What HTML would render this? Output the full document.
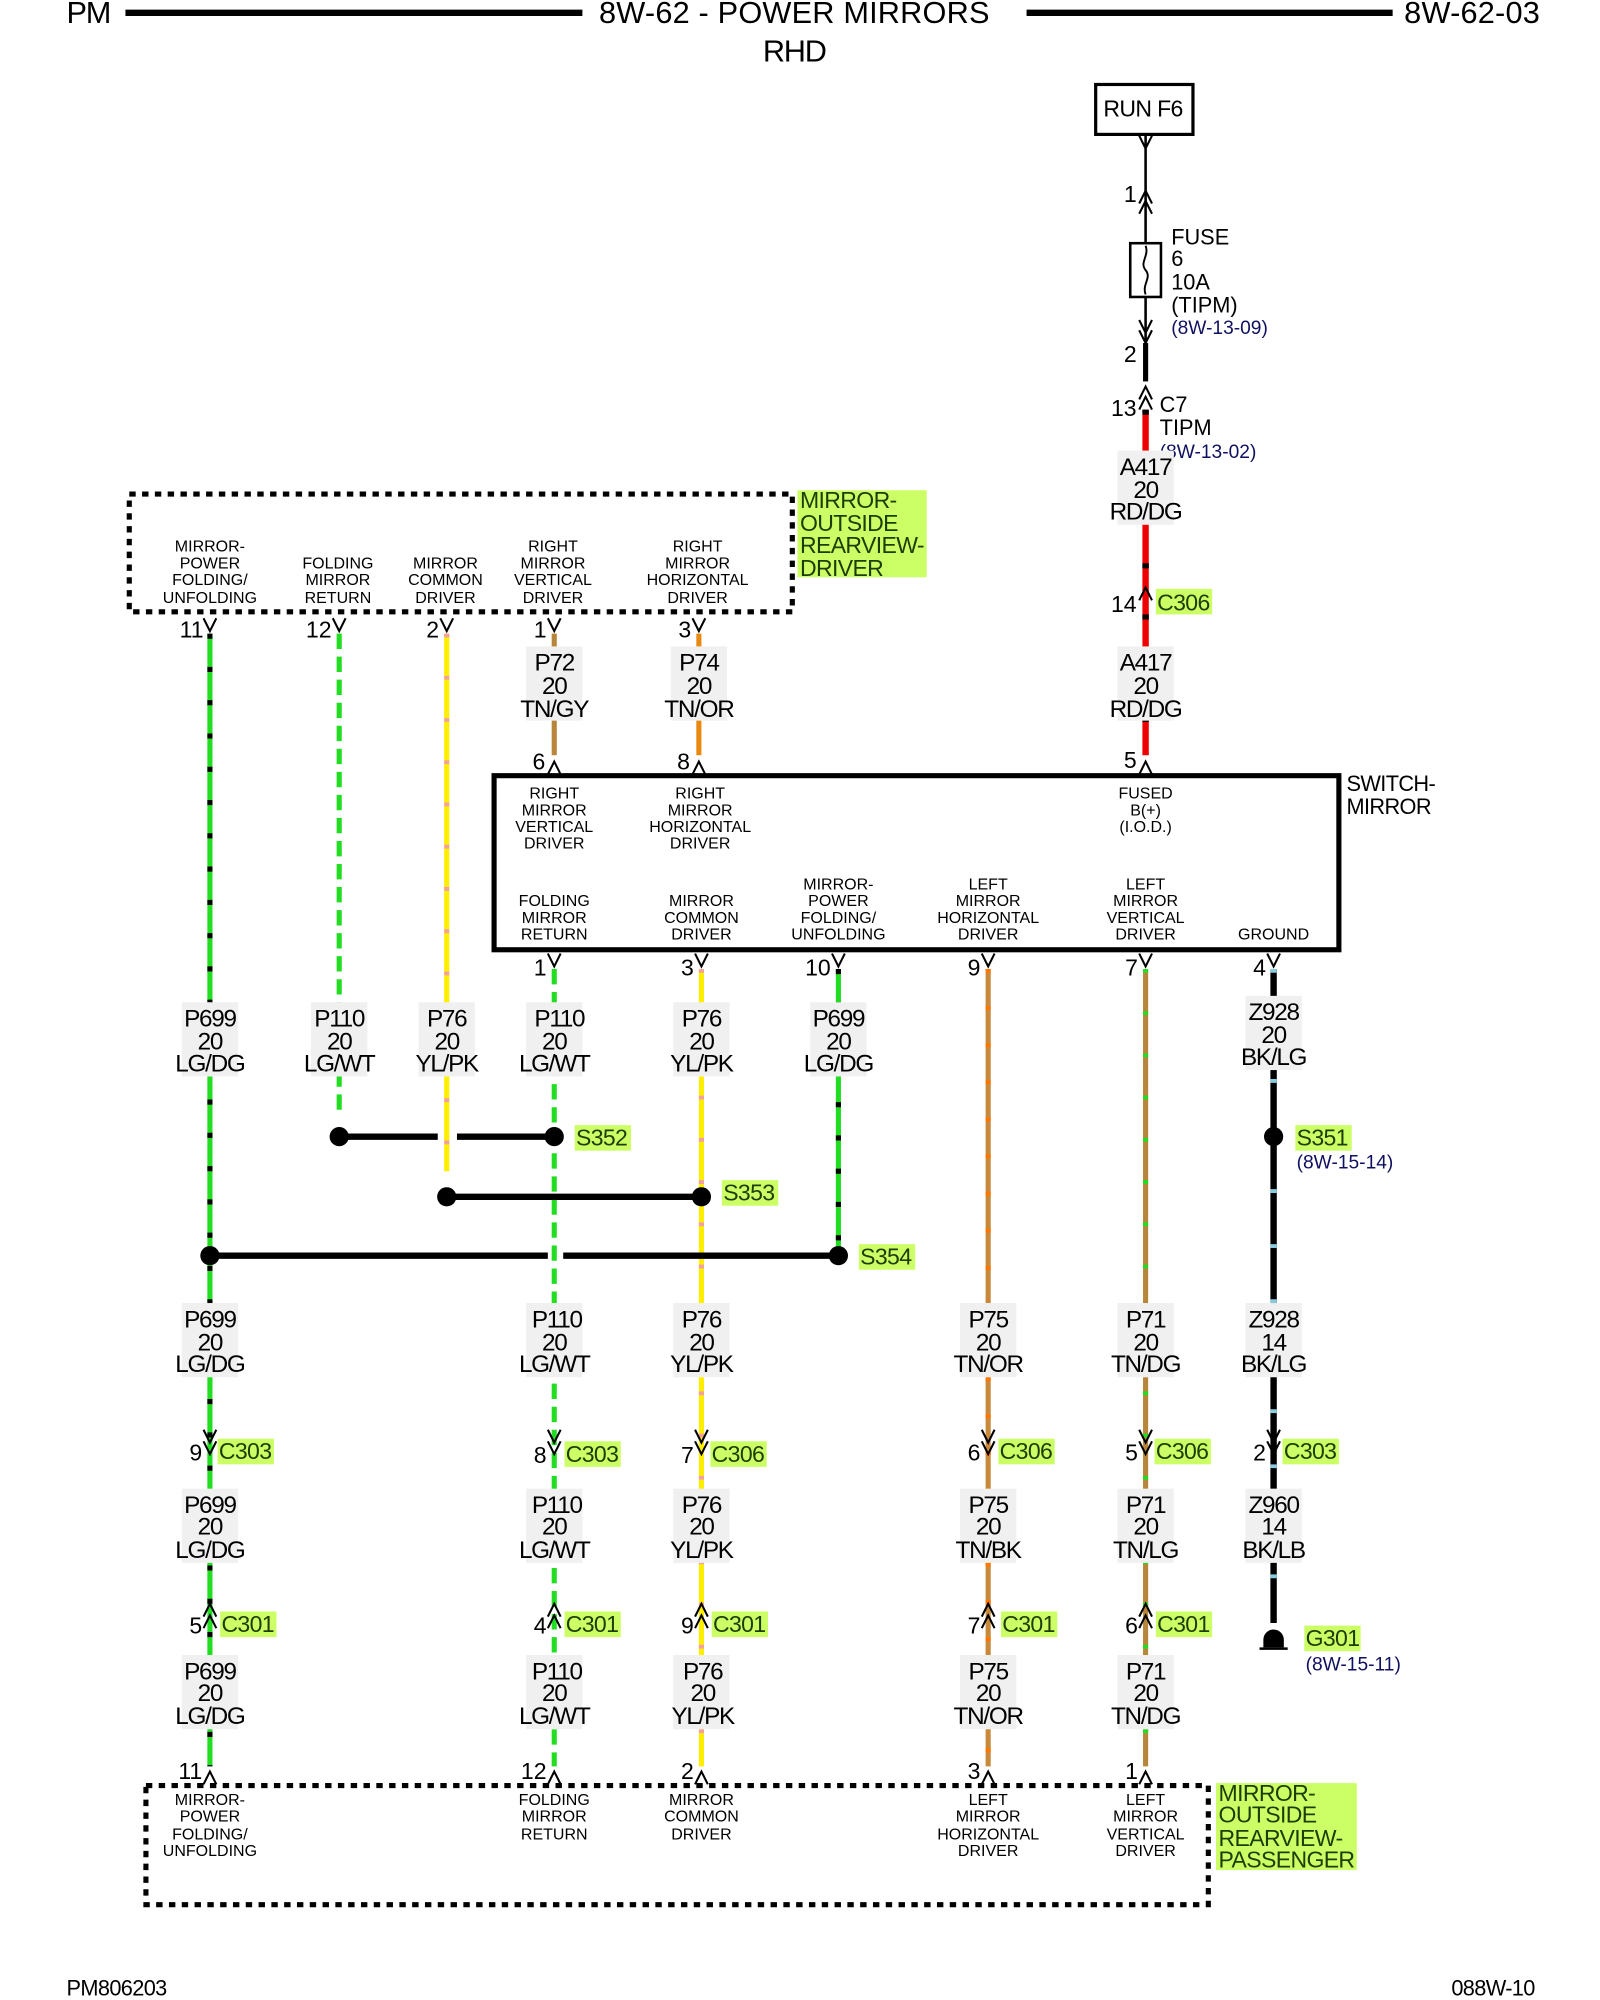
<!DOCTYPE html>
<html><head><meta charset="utf-8"><style>
html,body{margin:0;padding:0;background:#fff}
svg{display:block}
text{font-family:"Liberation Sans",sans-serif;fill:#000}
.w{font-size:19px;letter-spacing:-1px;text-anchor:middle}
.s{font-size:12.5px;text-anchor:middle}
.p{font-size:18px;text-anchor:end}
.h{font-size:24px}
.c{font-size:18px;fill:#1d3d00;letter-spacing:-0.5px}
.r{font-size:15px;fill:#101060}
.lb{fill:#f0f0f0}
</style></head><body>
<svg width="1600" height="2000" viewBox="0 0 1250 1562.5" xmlns="http://www.w3.org/2000/svg">
<defs>
<path id="dn" d="M-5,-7 L0,3 L5,-7" fill="none" stroke="#000" stroke-width="1.6"/>
<path id="up" d="M-5,7 L0,-3 L5,7" fill="none" stroke="#000" stroke-width="1.6"/>
</defs>
<text class="h" x="52" y="18" textLength="35">PM</text>
<line x1="98" y1="10" x2="455" y2="10" stroke="#000" stroke-width="5"/>
<text class="h" x="468" y="18" textLength="305">8W-62 - POWER MIRRORS</text>
<line x1="802" y1="10" x2="1088" y2="10" stroke="#000" stroke-width="5"/>
<text class="h" x="1097" y="18" textLength="106">8W-62-03</text>
<text class="h" x="596" y="48" textLength="50">RHD</text>

<rect x="856" y="66" width="76" height="39" fill="none" stroke="#000" stroke-width="2.5"/>
<text x="862" y="91" style="font-size:18px;letter-spacing:-0.5px">RUN F6</text>
<line x1="895" y1="105" x2="895" y2="270" stroke="#000" stroke-width="2"/>
<use href="#dn" x="895" y="113"/>
<use href="#up" x="895" y="152"/><use href="#up" x="895" y="160"/>
<text class="p" x="888" y="158">1</text>
<rect x="883" y="190" width="24" height="42" fill="#fff" stroke="#000" stroke-width="2"/>
<path d="M895,192 C898,200 890,205 895,211 C900,217 892,222 895,230" fill="none" stroke="#000" stroke-width="1.5"/>
<use href="#dn" x="895" y="257"/><use href="#dn" x="895" y="265"/>
<text x="915" y="191" style="font-size:17px">FUSE</text>
<text x="915" y="208" style="font-size:17px">6</text>
<text x="915" y="226" style="font-size:17px">10A</text>
<text x="915" y="244" style="font-size:17px">(TIPM)</text>
<text class="r" x="915" y="261">(8W-13-09)</text>
<text class="p" x="888" y="283">2</text>
<line x1="895" y1="268" x2="895" y2="298" stroke="#000" stroke-width="4"/>
<use href="#up" x="895" y="305"/><use href="#up" x="895" y="313"/>
<text class="p" x="888" y="325">13</text>
<text x="906" y="322" style="font-size:17px">C7</text>
<text x="906" y="340" style="font-size:17px">TIPM</text>
<text class="r" x="906" y="358">(8W-13-02)</text>
<line x1="895" y1="320" x2="895" y2="590" stroke="#e00" stroke-width="5"/>
<line x1="895" y1="320" x2="895" y2="590" stroke="#000" stroke-width="5" stroke-dasharray="4 36"/>
<use href="#up" x="895" y="462"/>
<text class="p" x="888" y="478">14</text>
<rect x="903" y="460" width="44" height="20" fill="#ccff66"/>
<text class="c" x="904" y="477">C306</text>
<use href="#up" x="895" y="598"/>
<text class="p" x="888" y="600">5</text>

<rect x="101" y="386" width="518" height="92" fill="none" stroke="#000" stroke-width="4" stroke-dasharray="5 5"/>
<rect x="623" y="383" width="101" height="68" fill="#ccff66"/>
<text class="c" x="625" y="397">MIRROR-</text>
<text class="c" x="625" y="415">OUTSIDE</text>
<text class="c" x="625" y="432">REARVIEW-</text>
<text class="c" x="625" y="450">DRIVER</text>
<text class="s" x="164" y="431">MIRROR-</text><text class="s" x="164" y="444">POWER</text><text class="s" x="164" y="457">FOLDING/</text><text class="s" x="164" y="471">UNFOLDING</text>
<text class="s" x="264" y="444">FOLDING</text><text class="s" x="264" y="457">MIRROR</text><text class="s" x="264" y="471">RETURN</text>
<text class="s" x="348" y="444">MIRROR</text><text class="s" x="348" y="457">COMMON</text><text class="s" x="348" y="471">DRIVER</text>
<text class="s" x="432" y="431">RIGHT</text><text class="s" x="432" y="444">MIRROR</text><text class="s" x="432" y="457">VERTICAL</text><text class="s" x="432" y="471">DRIVER</text>
<text class="s" x="545" y="431">RIGHT</text><text class="s" x="545" y="444">MIRROR</text><text class="s" x="545" y="457">HORIZONTAL</text><text class="s" x="545" y="471">DRIVER</text>

<rect x="386" y="606" width="660" height="136" fill="none" stroke="#000" stroke-width="4"/>
<text x="1052" y="618" style="font-size:17px;letter-spacing:-0.5px">SWITCH-</text>
<text x="1052" y="636" style="font-size:17px;letter-spacing:-0.5px">MIRROR</text>
<text class="s" x="433" y="624">RIGHT</text><text class="s" x="433" y="637">MIRROR</text><text class="s" x="433" y="650">VERTICAL</text><text class="s" x="433" y="663">DRIVER</text>
<text class="s" x="547" y="624">RIGHT</text><text class="s" x="547" y="637">MIRROR</text><text class="s" x="547" y="650">HORIZONTAL</text><text class="s" x="547" y="663">DRIVER</text>
<text class="s" x="895" y="624">FUSED</text><text class="s" x="895" y="637">B(+)</text><text class="s" x="895" y="650">(I.O.D.)</text>
<text class="s" x="433" y="708">FOLDING</text><text class="s" x="433" y="721">MIRROR</text><text class="s" x="433" y="734">RETURN</text>
<text class="s" x="548" y="708">MIRROR</text><text class="s" x="548" y="721">COMMON</text><text class="s" x="548" y="734">DRIVER</text>
<text class="s" x="655" y="695">MIRROR-</text><text class="s" x="655" y="708">POWER</text><text class="s" x="655" y="721">FOLDING/</text><text class="s" x="655" y="734">UNFOLDING</text>
<text class="s" x="772" y="695">LEFT</text><text class="s" x="772" y="708">MIRROR</text><text class="s" x="772" y="721">HORIZONTAL</text><text class="s" x="772" y="734">DRIVER</text>
<text class="s" x="895" y="695">LEFT</text><text class="s" x="895" y="708">MIRROR</text><text class="s" x="895" y="721">VERTICAL</text><text class="s" x="895" y="734">DRIVER</text>
<text class="s" x="995" y="734">GROUND</text>

<rect x="114" y="1395" width="830" height="93" fill="none" stroke="#000" stroke-width="4" stroke-dasharray="5 5"/>
<rect x="950" y="1393" width="110" height="68" fill="#ccff66"/>
<text class="c" x="952" y="1407">MIRROR-</text>
<text class="c" x="952" y="1424">OUTSIDE</text>
<text class="c" x="952" y="1442">REARVIEW-</text>
<text class="c" x="952" y="1459">PASSENGER</text>
<text class="s" x="164" y="1410">MIRROR-</text><text class="s" x="164" y="1423">POWER</text><text class="s" x="164" y="1437">FOLDING/</text><text class="s" x="164" y="1450">UNFOLDING</text>
<text class="s" x="433" y="1410">FOLDING</text><text class="s" x="433" y="1423">MIRROR</text><text class="s" x="433" y="1437">RETURN</text>
<text class="s" x="548" y="1410">MIRROR</text><text class="s" x="548" y="1423">COMMON</text><text class="s" x="548" y="1437">DRIVER</text>
<text class="s" x="772" y="1410">LEFT</text><text class="s" x="772" y="1423">MIRROR</text><text class="s" x="772" y="1437">HORIZONTAL</text><text class="s" x="772" y="1450">DRIVER</text>
<text class="s" x="895" y="1410">LEFT</text><text class="s" x="895" y="1423">MIRROR</text><text class="s" x="895" y="1437">VERTICAL</text><text class="s" x="895" y="1450">DRIVER</text>

<g stroke-width="4">
<line x1="164" y1="495" x2="164" y2="1380" stroke="#22dd22"/>
<line x1="164" y1="495" x2="164" y2="1380" stroke="#000" stroke-dasharray="4 22"/>
<line x1="265" y1="495" x2="265" y2="868" stroke="#22dd22" stroke-dasharray="12 6"/>
<line x1="349" y1="495" x2="349" y2="915" stroke="#ffee00"/>
<line x1="349" y1="495" x2="349" y2="915" stroke="#f4a0a0" stroke-dasharray="3 30"/>
<line x1="433" y1="495" x2="433" y2="590" stroke="#b8863b"/>
<line x1="546" y1="495" x2="546" y2="590" stroke="#e98a10"/>
<line x1="433" y1="757" x2="433" y2="1380" stroke="#22dd22" stroke-dasharray="12 6"/>
<line x1="548" y1="757" x2="548" y2="1380" stroke="#ffee00"/>
<line x1="548" y1="757" x2="548" y2="1380" stroke="#f4a0a0" stroke-dasharray="3 30"/>
<line x1="655" y1="757" x2="655" y2="981" stroke="#22dd22"/>
<line x1="655" y1="757" x2="655" y2="981" stroke="#000" stroke-dasharray="4 22"/>
<line x1="772" y1="757" x2="772" y2="1380" stroke="#c9893a"/>
<line x1="772" y1="757" x2="772" y2="1380" stroke="#ff7700" stroke-dasharray="3 26"/>
<line x1="895" y1="757" x2="895" y2="1380" stroke="#b8863b"/>
<line x1="895" y1="757" x2="895" y2="1380" stroke="#22dd22" stroke-dasharray="3 30"/>
<line x1="995" y1="757" x2="995" y2="1268" stroke="#000" stroke-width="5"/>
<line x1="995" y1="757" x2="995" y2="1268" stroke="#8cd" stroke-width="5" stroke-dasharray="3 40"/>
</g>
<g stroke="#000" stroke-width="5">
<line x1="265" y1="888" x2="342" y2="888"/><line x1="357" y1="888" x2="433" y2="888"/>
<line x1="349" y1="935" x2="548" y2="935"/>
<line x1="164" y1="981" x2="428" y2="981"/><line x1="440" y1="981" x2="655" y2="981"/>
</g>
<g fill="#000">
<circle cx="265" cy="888" r="7.5"/><circle cx="433" cy="888" r="7.5"/>
<circle cx="349" cy="935" r="7.5"/><circle cx="548" cy="935" r="7.5"/>
<circle cx="164" cy="981" r="7.5"/><circle cx="655" cy="981" r="7.5"/>
<circle cx="995" cy="888" r="7.5"/>
</g>
<rect x="449" y="879" width="44" height="20" fill="#ccff66"/><text class="c" x="450" y="895">S352</text>
<rect x="564" y="922" width="44" height="20" fill="#ccff66"/><text class="c" x="565" y="938">S353</text>
<rect x="671" y="972" width="44" height="20" fill="#ccff66"/><text class="c" x="672" y="988">S354</text>
<rect x="1012" y="879" width="44" height="20" fill="#ccff66"/><text class="c" x="1013" y="895">S351</text>
<text class="r" x="1013" y="913">(8W-15-14)</text>
<path d="M987,1287 L987,1281 A8,8 0 0 1 1003,1281 L1003,1287 Z" fill="#000"/>
<line x1="984" y1="1288" x2="1006" y2="1288" stroke="#000" stroke-width="2"/>
<rect x="1019" y="1270" width="44" height="20" fill="#ccff66"/><text class="c" x="1020" y="1286">G301</text>
<text class="r" x="1020" y="1305">(8W-15-11)</text>

<use href="#dn" x="164" y="490"/><text class="p" x="159" y="498">11</text>
<use href="#dn" x="265" y="490"/><text class="p" x="259" y="498">12</text>
<use href="#dn" x="349" y="490"/><text class="p" x="343" y="498">2</text>
<use href="#dn" x="433" y="490"/><text class="p" x="427" y="498">1</text>
<use href="#dn" x="546" y="490"/><text class="p" x="540" y="498">3</text>
<use href="#up" x="433" y="598"/><text class="p" x="426" y="601">6</text>
<use href="#up" x="546" y="598"/><text class="p" x="539" y="601">8</text>
<use href="#dn" x="433" y="752"/><text class="p" x="427" y="762">1</text>
<use href="#dn" x="548" y="752"/><text class="p" x="542" y="762">3</text>
<use href="#dn" x="655" y="752"/><text class="p" x="649" y="762">10</text>
<use href="#dn" x="772" y="752"/><text class="p" x="766" y="762">9</text>
<use href="#dn" x="895" y="752"/><text class="p" x="889" y="762">7</text>
<use href="#dn" x="995" y="752"/><text class="p" x="989" y="762">4</text>

<use href="#dn" x="164" y="1124"/><use href="#dn" x="164" y="1133"/><text class="p" x="158" y="1141">9</text>
<rect x="170" y="1124" width="44" height="20" fill="#ccff66"/><text class="c" x="171" y="1140">C303</text>
<use href="#dn" x="433" y="1124"/><use href="#dn" x="433" y="1133"/><text class="p" x="427" y="1143">8</text>
<rect x="441" y="1126" width="44" height="20" fill="#ccff66"/><text class="c" x="442" y="1142">C303</text>
<use href="#dn" x="548" y="1124"/><use href="#dn" x="548" y="1133"/><text class="p" x="542" y="1143">7</text>
<rect x="555" y="1126" width="44" height="20" fill="#ccff66"/><text class="c" x="556" y="1142">C306</text>
<use href="#dn" x="772" y="1124"/><use href="#dn" x="772" y="1133"/><text class="p" x="766" y="1141">6</text>
<rect x="780" y="1124" width="44" height="20" fill="#ccff66"/><text class="c" x="781" y="1140">C306</text>
<use href="#dn" x="895" y="1124"/><use href="#dn" x="895" y="1133"/><text class="p" x="889" y="1141">5</text>
<rect x="902" y="1124" width="44" height="20" fill="#ccff66"/><text class="c" x="903" y="1140">C306</text>
<use href="#dn" x="995" y="1124"/><use href="#dn" x="995" y="1133"/><text class="p" x="989" y="1141">2</text>
<rect x="1002" y="1124" width="44" height="20" fill="#ccff66"/><text class="c" x="1003" y="1140">C303</text>

<use href="#up" x="164" y="1256"/><use href="#up" x="164" y="1265"/><text class="p" x="158" y="1276">5</text>
<rect x="172" y="1259" width="44" height="20" fill="#ccff66"/><text class="c" x="173" y="1275">C301</text>
<use href="#up" x="433" y="1256"/><use href="#up" x="433" y="1265"/><text class="p" x="427" y="1276">4</text>
<rect x="441" y="1259" width="44" height="20" fill="#ccff66"/><text class="c" x="442" y="1275">C301</text>
<use href="#up" x="548" y="1256"/><use href="#up" x="548" y="1265"/><text class="p" x="542" y="1276">9</text>
<rect x="556" y="1259" width="44" height="20" fill="#ccff66"/><text class="c" x="557" y="1275">C301</text>
<use href="#up" x="772" y="1256"/><use href="#up" x="772" y="1265"/><text class="p" x="766" y="1276">7</text>
<rect x="782" y="1259" width="44" height="20" fill="#ccff66"/><text class="c" x="783" y="1275">C301</text>
<use href="#up" x="895" y="1256"/><use href="#up" x="895" y="1265"/><text class="p" x="889" y="1276">6</text>
<rect x="903" y="1259" width="44" height="20" fill="#ccff66"/><text class="c" x="904" y="1275">C301</text>

<use href="#up" x="164" y="1387"/><text class="p" x="158" y="1390">11</text>
<use href="#up" x="433" y="1387"/><text class="p" x="427" y="1390">12</text>
<use href="#up" x="548" y="1387"/><text class="p" x="542" y="1390">2</text>
<use href="#up" x="772" y="1387"/><text class="p" x="766" y="1390">3</text>
<use href="#up" x="895" y="1387"/><text class="p" x="889" y="1390">1</text>

<rect class="lb" x="873" y="352" width="44" height="58"/><text class="w" x="895" y="371">A417</text><text class="w" x="895" y="389">20</text><text class="w" x="895" y="406">RD/DG</text>
<rect class="lb" x="873" y="505" width="44" height="58"/><text class="w" x="895" y="524">A417</text><text class="w" x="895" y="542">20</text><text class="w" x="895" y="560">RD/DG</text>
<rect class="lb" x="411" y="505" width="44" height="58"/><text class="w" x="433" y="524">P72</text><text class="w" x="433" y="542">20</text><text class="w" x="433" y="560">TN/GY</text>
<rect class="lb" x="524" y="505" width="44" height="58"/><text class="w" x="546" y="524">P74</text><text class="w" x="546" y="542">20</text><text class="w" x="546" y="560">TN/OR</text>

<rect class="lb" x="142" y="783" width="44" height="58"/><text class="w" x="164" y="802">P699</text><text class="w" x="164" y="820">20</text><text class="w" x="164" y="837">LG/DG</text>
<rect class="lb" x="243" y="783" width="44" height="58"/><text class="w" x="265" y="802">P110</text><text class="w" x="265" y="820">20</text><text class="w" x="265" y="837">LG/WT</text>
<rect class="lb" x="327" y="783" width="44" height="58"/><text class="w" x="349" y="802">P76</text><text class="w" x="349" y="820">20</text><text class="w" x="349" y="837">YL/PK</text>
<rect class="lb" x="411" y="783" width="44" height="58"/><text class="w" x="437" y="802">P110</text><text class="w" x="433" y="820">20</text><text class="w" x="433" y="837">LG/WT</text>
<rect class="lb" x="526" y="783" width="44" height="58"/><text class="w" x="548" y="802">P76</text><text class="w" x="548" y="820">20</text><text class="w" x="548" y="837">YL/PK</text>
<rect class="lb" x="633" y="783" width="44" height="58"/><text class="w" x="655" y="802">P699</text><text class="w" x="655" y="820">20</text><text class="w" x="655" y="837">LG/DG</text>
<rect class="lb" x="973" y="778" width="44" height="58"/><text class="w" x="995" y="797">Z928</text><text class="w" x="995" y="815">20</text><text class="w" x="995" y="832">BK/LG</text>

<rect class="lb" x="142" y="1018" width="44" height="58"/><text class="w" x="164" y="1037">P699</text><text class="w" x="164" y="1055">20</text><text class="w" x="164" y="1072">LG/DG</text>
<rect class="lb" x="411" y="1018" width="44" height="58"/><text class="w" x="435" y="1037">P110</text><text class="w" x="433" y="1055">20</text><text class="w" x="433" y="1072">LG/WT</text>
<rect class="lb" x="526" y="1018" width="44" height="58"/><text class="w" x="548" y="1037">P76</text><text class="w" x="548" y="1055">20</text><text class="w" x="548" y="1072">YL/PK</text>
<rect class="lb" x="750" y="1018" width="44" height="58"/><text class="w" x="772" y="1037">P75</text><text class="w" x="772" y="1055">20</text><text class="w" x="772" y="1072">TN/OR</text>
<rect class="lb" x="873" y="1018" width="44" height="58"/><text class="w" x="895" y="1037">P71</text><text class="w" x="895" y="1055">20</text><text class="w" x="895" y="1072">TN/DG</text>
<rect class="lb" x="973" y="1018" width="44" height="58"/><text class="w" x="995" y="1037">Z928</text><text class="w" x="995" y="1055">14</text><text class="w" x="995" y="1072">BK/LG</text>

<rect class="lb" x="142" y="1163" width="44" height="58"/><text class="w" x="164" y="1182">P699</text><text class="w" x="164" y="1199">20</text><text class="w" x="164" y="1217">LG/DG</text>
<rect class="lb" x="411" y="1163" width="44" height="58"/><text class="w" x="435" y="1182">P110</text><text class="w" x="433" y="1199">20</text><text class="w" x="433" y="1217">LG/WT</text>
<rect class="lb" x="526" y="1163" width="44" height="58"/><text class="w" x="548" y="1182">P76</text><text class="w" x="548" y="1199">20</text><text class="w" x="548" y="1217">YL/PK</text>
<rect class="lb" x="750" y="1163" width="44" height="58"/><text class="w" x="772" y="1182">P75</text><text class="w" x="772" y="1199">20</text><text class="w" x="772" y="1217">TN/BK</text>
<rect class="lb" x="873" y="1163" width="44" height="58"/><text class="w" x="895" y="1182">P71</text><text class="w" x="895" y="1199">20</text><text class="w" x="895" y="1217">TN/LG</text>
<rect class="lb" x="973" y="1163" width="44" height="58"/><text class="w" x="995" y="1182">Z960</text><text class="w" x="995" y="1199">14</text><text class="w" x="995" y="1217">BK/LB</text>

<rect class="lb" x="142" y="1293" width="44" height="58"/><text class="w" x="164" y="1312">P699</text><text class="w" x="164" y="1329">20</text><text class="w" x="164" y="1347">LG/DG</text>
<rect class="lb" x="411" y="1293" width="44" height="58"/><text class="w" x="435" y="1312">P110</text><text class="w" x="433" y="1329">20</text><text class="w" x="433" y="1347">LG/WT</text>
<rect class="lb" x="526" y="1293" width="44" height="58"/><text class="w" x="549" y="1312">P76</text><text class="w" x="549" y="1329">20</text><text class="w" x="549" y="1347">YL/PK</text>
<rect class="lb" x="750" y="1293" width="44" height="58"/><text class="w" x="772" y="1312">P75</text><text class="w" x="772" y="1329">20</text><text class="w" x="772" y="1347">TN/OR</text>
<rect class="lb" x="873" y="1293" width="44" height="58"/><text class="w" x="895" y="1312">P71</text><text class="w" x="895" y="1329">20</text><text class="w" x="895" y="1347">TN/DG</text>

<text x="52" y="1559" style="font-size:17px;letter-spacing:-0.5px">PM806203</text>
<text x="1199" y="1559" style="font-size:17px;letter-spacing:-0.5px;text-anchor:end">088W-10</text>
</svg>
</body></html>
